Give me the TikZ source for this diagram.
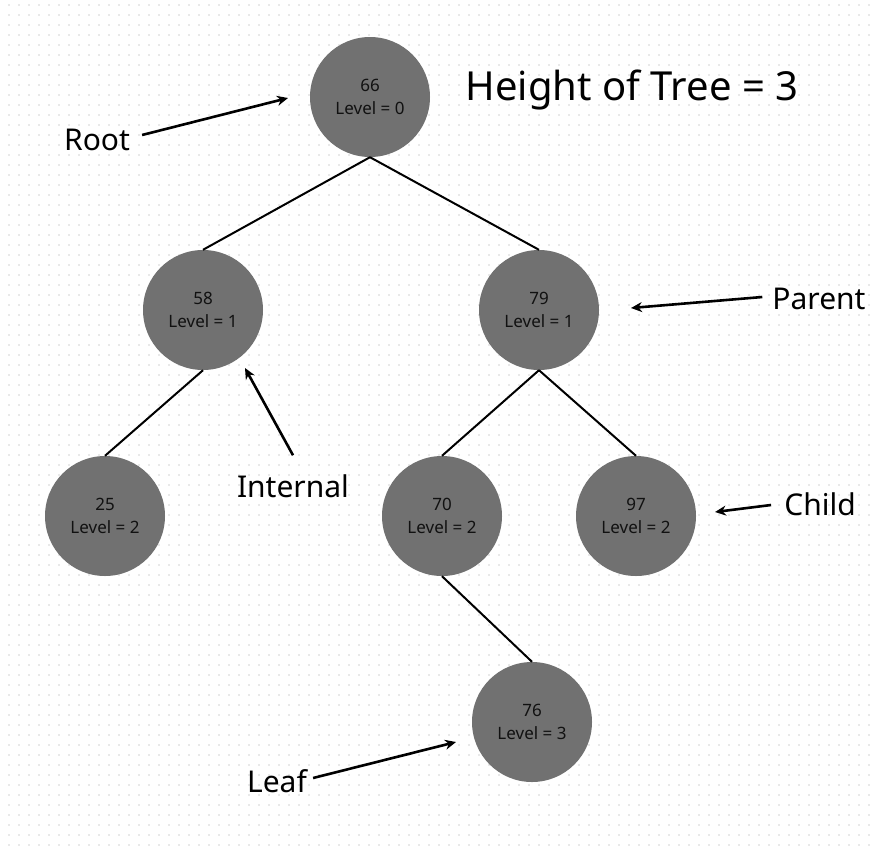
\documentclass[tikz,border=0pt]{standalone}
\usepackage{fontspec}
\setmainfont{Noto Sans}
\usetikzlibrary{arrows.meta}
\definecolor{nodefill}{HTML}{717171}
\definecolor{dotgray}{HTML}{E9E9E9}
\definecolor{ntext}{HTML}{111111}
\tikzset{
  treenode/.style={circle, fill=nodefill, minimum size=120pt, inner sep=0pt, text=ntext, align=center, font=\fontsize{17}{23}\selectfont},
  edge/.style={line width=2pt, black},
  pointer/.style={line width=2.6pt, black, -{Stealth[length=11pt,width=10pt]}},
  lbl/.style={font=\fontsize{30}{36}\selectfont, inner sep=0pt},
}
\begin{document}
\begin{tikzpicture}[x=1pt,y=-1pt]
\useasboundingbox (0,0) rectangle (878,847);
\fill[white] (0,0) rectangle (878,847);
% dotted grid background
\foreach \yy in {5,15,...,845} {
  \draw[dotgray, line width=1.6pt, dash pattern=on 1.6pt off 8.4pt] (8.2,\yy) -- (878,\yy);
}
% tree nodes
\node[treenode] (n66) at (370,97) {66\\Level = 0};
\node[treenode] (n58) at (203,310) {58\\Level = 1};
\node[treenode] (n79) at (539,310) {79\\Level = 1};
\node[treenode] (n25) at (105,516) {25\\Level = 2};
\node[treenode] (n70) at (442,516) {70\\Level = 2};
\node[treenode] (n97) at (636,516) {97\\Level = 2};
\node[treenode] (n76) at (532,722) {76\\Level = 3};
% edges
\draw[edge] (n66.south) -- (n58.north);
\draw[edge] (n66.south) -- (n79.north);
\draw[edge] (n58.south) -- (n25.north);
\draw[edge] (n79.south) -- (n70.north);
\draw[edge] (n79.south) -- (n97.north);
\draw[edge] (n70.south) -- (n76.north);
% labels
\node[font=\fontsize{40}{48}\selectfont, inner sep=0pt] (height) at (632,90) {Height of Tree = 3};
\node[lbl] (root) at (97,140) {Root};
\node[lbl] (internal) at (293,486) {Internal};
\node[lbl] (parent) at (819,299) {Parent};
\node[lbl] (child) at (820,504) {Child};
\node[lbl] (leaf) at (277,781) {Leaf};
% pointer ends
\coordinate (rootTip) at (288,98);
\coordinate (internalTip) at (245,368);
\coordinate (parentTip) at (631,308);
\coordinate (childTip) at (715,512);
\coordinate (leafTip) at (456,742);
\draw[pointer] (root.east) ++(12,-5) -- (rootTip);
\draw[pointer] (internal.north) ++(0,-19) -- (internalTip);
\draw[pointer] (parent.west) ++(-10,-2) -- (parentTip);
\draw[pointer] (child.west) ++(-13,1) -- (childTip);
\draw[pointer] (leaf.east) ++(6,-3) -- (leafTip);
\end{tikzpicture}
\end{document}
